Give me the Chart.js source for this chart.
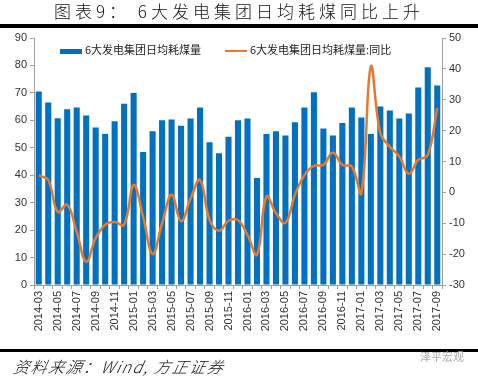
<!DOCTYPE html>
<html lang="zh">
<head>
  <meta charset="UTF-8" />
  <title>图表9：6大发电集团日均耗煤同比上升</title>
  <script src="https://cdn.jsdelivr.net/npm/chart.js"></script>
  <style>
    body { margin: 0; width: 478px; height: 376px; background: #fff; position: relative; overflow: hidden; font-family: "Liberation Sans", Arial, sans-serif; }
    .title { position: absolute; top: 1px; left: 0; width: 478px; text-align: center; font-family: "Noto Sans CJK SC", serif; font-weight: 300; font-size: 17px; letter-spacing: 4px; color: #111; line-height: 20px; }
    .rule { position: absolute; left: 0; width: 478px; height: 4px; background: #000; }
    .src { position: absolute; left: 12px; top: 357px; font-family: "Noto Sans CJK SC", sans-serif; font-weight: 300; font-style: italic; font-size: 16px; letter-spacing: 1.5px; color: #111; line-height: 18px; transform: skewX(-12deg); transform-origin: left bottom; }
    .mark { position: absolute; left: 420px; top: 348px; font-family: "Noto Sans CJK SC", sans-serif; font-size: 11px; color: #aaa; }
    .legend { position: absolute; top: 42px; font-family: "Noto Sans CJK SC", sans-serif; font-size: 11px; color: #222; line-height: 14px; white-space: nowrap; }
    .legend span.key { display: inline-block; width: 22px; vertical-align: middle; margin-right: 3px; }
    #wrap { position: absolute; left: 0; top: 0; width: 478px; height: 376px; }
  </style>
</head>
<body>
  <div id="wrap"><canvas id="chart"></canvas></div>
  <div class="title">图表9： 6大发电集团日均耗煤同比上升</div>
  <div class="rule" style="top:24px"></div>
  <div class="legend" style="left:60px"><span class="key" style="height:5px;background:#0070C0"></span>6大发电集团日均耗煤量</div>
  <div class="legend" style="left:225px"><span class="key" style="height:2px;background:#E57A2E"></span>6大发电集团日均耗煤量:同比</div>
  <div class="rule" style="top:349px;height:3px"></div>
  <div class="src">资料来源：Wind, 方正证券</div>
  <div class="mark">泽平宏观</div>
  <script>
    const months = [
      '2014-03','2014-04','2014-05','2014-06','2014-07','2014-08','2014-09','2014-10','2014-11','2014-12',
      '2015-01','2015-02','2015-03','2015-04','2015-05','2015-06','2015-07','2015-08','2015-09','2015-10',
      '2015-11','2015-12','2016-01','2016-02','2016-03','2016-04','2016-05','2016-06','2016-07','2016-08',
      '2016-09','2016-10','2016-11','2016-12','2017-01','2017-02','2017-03','2017-04','2017-05','2017-06',
      '2017-07','2017-08','2017-09'
    ];
    // 日均耗煤量 (万吨)
    const coal = [
      70.5, 66.5, 60.8, 64.0, 64.7, 61.8, 57.4, 55.0, 59.7, 66.0,
      70.0, 48.5, 56.0, 60.0, 60.3, 58.0, 60.7, 64.7, 52.0, 48.0,
      54.0, 60.0, 60.7, 39.0, 55.0, 56.0, 54.5, 59.3, 64.7, 70.2,
      57.0, 54.5, 59.0, 64.7, 61.0, 55.0, 65.0, 63.6, 60.7, 62.5,
      72.0, 79.3, 72.7
    ];
    // 同比 (%)
    const yoy = [
      5.5, 4.0, -6.3, -4.0, -12.8, -22.5, -14.8, -10.5, -9.6, -10.5,
      2.4, -7.9, -20.0, -10.0, -0.8, -9.4, -2.0, 4.0, -8.9, -12.4,
      -9.2, -9.0, -13.8, -20.2, -1.3, -6.7, -9.9, -0.8, 5.6, 8.6,
      8.9, 12.9, 8.9, 8.4, -0.3, 40.7, 19.2, 14.8, 11.6, 6.0,
      10.5, 12.1, 27.3
    ];
    const leftTicks = { min: 0, max: 90, step: 10 };
    const rightTicks = { min: -30, max: 50, step: 10 };

    const axisColor = '#A0A0A0';
    const tickFont = { family: '"Liberation Sans", Arial, sans-serif', size: 11 };

    new Chart(document.getElementById('chart'), {
      data: {
        labels: months,
        datasets: [
          {
            type: 'line',
            label: '6大发电集团日均耗煤量:同比',
            data: yoy,
            yAxisID: 'y2',
            borderColor: '#E57A2E',
            borderWidth: 2.5,
            pointRadius: 0,
            tension: 0.4,
            order: 0
          },
          {
            type: 'bar',
            label: '6大发电集团日均耗煤量',
            data: coal,
            yAxisID: 'y',
            backgroundColor: '#0070C0',
            barPercentage: 0.64,
            categoryPercentage: 1,
            order: 1
          }
        ]
      },
      options: {
        responsive: true,
        maintainAspectRatio: false,
        animation: false,
        layout: { padding: { top: 38, bottom: 0, left: 0, right: 0 } },
        plugins: { legend: { display: false }, tooltip: { enabled: false } },
        scales: {
          x: {
            offset: true,
            grid: { display: true, drawOnChartArea: false, tickLength: 4, color: axisColor },
            border: { display: true, color: axisColor },
            ticks: {
              autoSkip: false, maxRotation: 90, minRotation: 90, color: '#333', font: tickFont, padding: 2,
              callback: (v, i) => (i % 2 === 0 ? months[i] : '')
            },
            afterFit: s => { s.height = 91; }
          },
          y: {
            position: 'left',
            min: leftTicks.min, max: leftTicks.max,
            grid: { display: true, drawOnChartArea: false, tickLength: 4, color: axisColor },
            border: { display: true, color: axisColor },
            ticks: { stepSize: leftTicks.step, color: '#333', font: tickFont, padding: 3 },
            afterFit: s => { s.width = 34; }
          },
          y2: {
            position: 'right',
            min: rightTicks.min, max: rightTicks.max,
            grid: { display: true, drawOnChartArea: false, tickLength: 4, color: axisColor },
            border: { display: true, color: axisColor },
            ticks: { stepSize: rightTicks.step, color: '#333', font: tickFont, padding: 3 },
            afterFit: s => { s.width = 36; }
          }
        }
      }
    });
  </script>
</body>
</html>
